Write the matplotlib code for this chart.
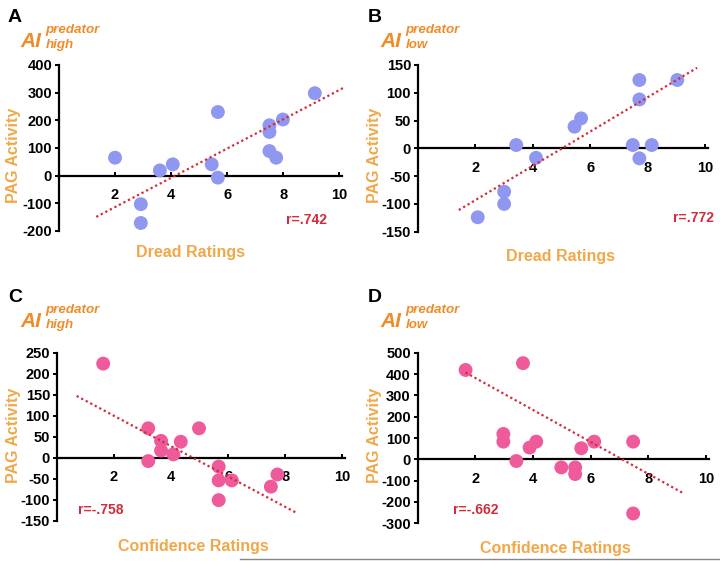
import matplotlib
matplotlib.use("Agg")
import matplotlib.pyplot as plt
from matplotlib.lines import Line2D

plt.rcParams['font.family'] = ['Liberation Sans', 'DejaVu Sans']
plt.rcParams['axes.unicode_minus'] = False

W, H = 720, 561

# panel A: AI predator high vs dread
a_x = [2.0, 2.92, 2.92, 3.6, 4.06, 5.45, 5.67, 5.67, 7.51, 7.51, 7.51, 7.75, 7.99, 9.13]
a_y = [65, -103, -171, 19, 41, 41, 230, -7, 182, 158, 89, 65, 203, 298]
a_fit_x = [1.33, 10.2]
a_fit_y = [-149, 320]

# panel B: AI predator low vs dread
b_x = [2.08, 3.0, 3.0, 3.42, 4.11, 5.45, 5.68, 7.71, 7.71, 7.48, 7.71, 8.14, 9.03]
b_y = [-124, -78, -100, 6, -17, 39, 54, 123, 88, 6, -18, 6, 123]
b_fit_x = [1.42, 9.72]
b_fit_y = [-111, 145]

# panel C: AI predator high vs confidence
c_x = [1.62, 3.2, 3.2, 3.65, 3.65, 4.08, 4.34, 4.98, 5.67, 5.67, 5.67, 6.13, 7.5, 7.73]
c_y = [224, 70, -8, 40, 17, 8, 38, 70, -21, -54, -101, -54, -69, -40]
c_fit_x = [0.69, 8.39]
c_fit_y = [147, -131]

# panel D: AI predator low vs confidence
d_x = [1.66, 3.65, 2.97, 2.97, 3.42, 3.88, 4.11, 4.98, 5.46, 5.46, 5.67, 6.12, 7.47, 7.47]
d_y = [419, 451, 119, 83, -8, 55, 83, -38, -38, -69, 52, 83, 83, -254]
d_fit_x = [1.66, 9.22]
d_fit_y = [407, -160]

blue = '#9097f0'
pink = '#ee5a9a'
orange_lbl = '#f0a848'
orange_ttl = '#f08c28'
red = '#d42a3a'

fig = plt.figure(figsize=(7.2, 5.61), dpi=100)

def fx(px):
    return px / W

def fy(py):
    return 1 - py / H

panels = [
    dict(letter='A', box=(59, 342, 65, 231), x=a_x, y=a_y, fx_=a_fit_x, fy_=a_fit_y, col=blue,
         yt=[-200, -100, 0, 100, 200, 300, 400], sub='high', xl='Dread Ratings', xlpos=(191, 252),
         r='r=.742', rpos=(306, 220), off=(0, 0)),
    dict(letter='B', box=(418, 708, 65, 231.7), x=b_x, y=b_y, fx_=b_fit_x, fy_=b_fit_y, col=blue,
         yt=[-150, -100, -50, 0, 50, 100, 150], sub='low', xl='Dread Ratings', xlpos=(561, 256),
         r='r=.772', rpos=(693, 218), off=(360, 0)),
    dict(letter='C', box=(57, 345, 352.7, 520.7), x=c_x, y=c_y, fx_=c_fit_x, fy_=c_fit_y, col=pink,
         yt=[-150, -100, -50, 0, 50, 100, 150, 200, 250], sub='high', xl='Confidence Ratings',
         xlpos=(193, 547), r='r=-.758', rpos=(101, 510), off=(0, 280)),
    dict(letter='D', box=(417.7, 709, 352.7, 523.3), x=d_x, y=d_y, fx_=d_fit_x, fy_=d_fit_y, col=pink,
         yt=[-300, -200, -100, 0, 100, 200, 300, 400, 500], sub='low', xl='Confidence Ratings',
         xlpos=(555, 548), r='r=-.662', rpos=(476, 510), off=(360, 280)),
]

for p in panels:
    l, r, t, b = p['box']
    ax = fig.add_axes([fx(l), fy(b), fx(r) - fx(l), (b - t) / H])
    ax.set_xlim(0, 10.1)
    ax.set_ylim(p['yt'][0], p['yt'][-1])
    ax.scatter(p['x'], p['y'], s=100, color=p['col'], edgecolors='none', zorder=3)
    ax.plot(p['fx_'], p['fy_'], color=red, lw=1.6, ls=(0, (1, 1.3)), zorder=4, clip_on=False)
    for s in ['top', 'right']:
        ax.spines[s].set_visible(False)
    ax.spines['bottom'].set_position(('data', 0))
    ax.spines['bottom'].set_bounds(0, 10.1)
    ax.spines['left'].set_linewidth(1.6)
    ax.spines['bottom'].set_linewidth(1.6)
    ax.set_xticks([2, 4, 6, 8, 10])
    ax.set_yticks(p['yt'])
    ax.tick_params(axis='both', labelsize=10.5, width=1.4, length=3, pad=2)
    ax.tick_params(axis='x', direction='in', pad=9)
    for lab in ax.get_xticklabels() + ax.get_yticklabels():
        lab.set_fontweight('bold')
    ax.patch.set_alpha(0)

    ox, oy = p['off']
    fig.text(fx(ox + 8), fy(oy + 22), p['letter'], fontsize=14, fontweight='bold', color='black')
    fig.text(fx(ox + 20), fy(oy + 47), 'AI', fontsize=15, fontweight='bold', style='italic',
             color=orange_ttl)
    fig.text(fx(ox + 45.5), fy(oy + 33), 'predator', fontsize=9.6, fontweight='bold',
             style='italic', color=orange_ttl)
    fig.text(fx(ox + 45.5), fy(oy + 48), p['sub'], fontsize=9.6, fontweight='bold',
             style='italic', color=orange_ttl)
    fig.text(fx(ox + 14), fy(oy + 155), 'PAG Activity', fontsize=11.5, fontweight='bold',
             color=orange_lbl, rotation=90, ha='center', va='center')
    xlx, xly = p['xlpos']
    fig.text(fx(xlx), fy(xly), p['xl'], fontsize=11.5, fontweight='bold', color=orange_lbl,
             ha='center', va='center')
    rx, ry = p['rpos']
    fig.text(fx(rx), fy(ry), p['r'], fontsize=10, fontweight='bold', color=red,
             ha='center', va='center')

fig.add_artist(Line2D([fx(240), fx(720)], [fy(559), fy(559)], color='#888888', lw=1))

fig.savefig('out.png', dpi=100)
